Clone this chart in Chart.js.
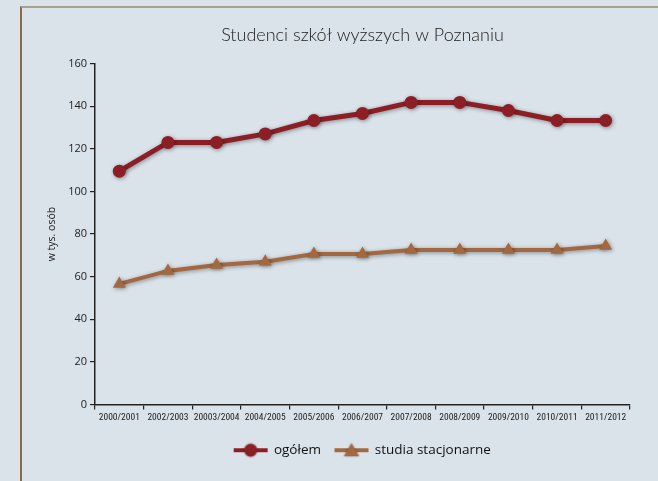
<!DOCTYPE html>
<html>
<head>
<meta charset="utf-8">
<script src="https://cdn.jsdelivr.net/npm/chart.js@4/dist/chart.umd.min.js"></script>
<style>
  html, body { margin: 0; padding: 0; background: #dae3ea; }
  #wrap { position: relative; width: 658px; height: 481px; }
  #frame { position: absolute; left: 20px; top: 6px; right: 0; bottom: 0;
           border-left: 2px solid #8d6c45; border-top: 2px solid #aba08e; }
  canvas { position: absolute; left: 0; top: 0; }
</style>
</head>
<body>
<div id="wrap">
  <div id="frame"></div>
  <canvas id="c" width="658" height="481"></canvas>
</div>
<script>
const categories = ["2000/2001","2002/2003","20003/2004","2004/2005","2005/2006","2006/2007","2007/2008","2008/2009","2009/2010","2010/2011","2011/2012"];
const ogolem = [109.5, 123, 123, 127, 133.3, 136.6, 141.8, 141.8, 138, 133.3, 133.3];
const stacjonarne = [56.6, 62.7, 65.5, 67, 70.6, 70.6, 72.5, 72.5, 72.5, 72.5, 74.4];
const yTicks = [0, 20, 40, 60, 80, 100, 120, 140, 160];
const seriesNames = ["ogółem", "studia stacjonarne"];
const titleText = "Studenci szkół wyższych w Poznaniu";
const yTitle = "w tys. osób";

const RED = "#8c1f25";
const BROWN = "#a3683f";

function legendIcon(color, shape) {
  const cv = document.createElement("canvas");
  cv.width = 38; cv.height = 18;
  const g = cv.getContext("2d");
  g.strokeStyle = color; g.lineWidth = 4;
  g.beginPath(); g.moveTo(2, 9); g.lineTo(36, 9); g.stroke();
  g.fillStyle = color;
  g.shadowColor = "rgba(0,0,0,0.45)"; g.shadowBlur = 2;
  g.beginPath();
  if (shape === "circle") { g.arc(19, 9, 6.5, 0, Math.PI * 2); }
  else { g.moveTo(19, 2); g.lineTo(26.5, 15); g.lineTo(11.5, 15); g.closePath(); }
  g.fill();
  return cv;
}
const icons = [legendIcon(RED, "circle"), legendIcon(BROWN, "triangle")];

const shadowPlugin = {
  id: "shadow",
  afterLayout(chart) {
    const a = chart.chartArea;
    if (chart.legend) { chart.legend.left = a.left; chart.legend.right = a.right; }
    if (chart.titleBlock) { chart.titleBlock.left = a.left; chart.titleBlock.right = a.right; }
  },
  beforeDatasetsDraw(chart) {
    const ctx = chart.ctx; ctx.save();
    ctx.shadowColor = "rgba(0,0,0,0.4)"; ctx.shadowBlur = 4; ctx.shadowOffsetX = 1; ctx.shadowOffsetY = 1;
  },
  afterDatasetsDraw(chart) { chart.ctx.restore(); }
};

new Chart(document.getElementById("c"), {
  type: "line",
  data: {
    labels: categories,
    datasets: [
      { label: seriesNames[0], data: ogolem, borderColor: RED, backgroundColor: RED,
        borderWidth: 5, pointRadius: 6.5, pointHoverRadius: 6.5, pointBorderWidth: 0, pointStyle: "circle", tension: 0 },
      { label: seriesNames[1], data: stacjonarne, borderColor: BROWN, backgroundColor: BROWN,
        borderWidth: 4, pointRadius: 7.5, pointHoverRadius: 7.5, pointBorderWidth: 0, pointStyle: "triangle", tension: 0 }
    ]
  },
  options: {
    responsive: false, animation: false,
    layout: { padding: { left: 46, right: 28, top: 15, bottom: 14 } },
    plugins: {
      title: { display: true, text: titleText, color: "#1a1a1a",
               font: { family: "Lato, 'Open Sans', sans-serif", size: 18, weight: 300 },
               padding: { top: 9, bottom: 18 } },
      legend: { position: "bottom",
        labels: { usePointStyle: true, pointStyleWidth: 33, boxHeight: 18, color: "#111", padding: 14,
          font: { family: "'Open Sans', 'Noto Sans', sans-serif", size: 13.5 },
          generateLabels(chart) {
            return chart.data.datasets.map((d, i) => ({
              text: d.label, pointStyle: icons[i], fillStyle: d.borderColor,
              strokeStyle: d.borderColor, lineWidth: 0, datasetIndex: i, hidden: false, fontColor: "#111"
            }));
          } } },
      tooltip: { enabled: false }
    },
    scales: {
      x: { offset: true,
        grid: { offset: true, drawOnChartArea: false, drawTicks: true, tickLength: 5, color: "#222", lineWidth: 1.2 },
        border: { color: "#222", width: 1.5 },
        ticks: { color: "#222", maxRotation: 0, autoSkip: false, padding: 2,
          font: { family: "'Liberation Sans Narrow', 'Roboto Condensed', sans-serif", size: 9.5 } },
        afterFit(s) { s.height = 25; }
      },
      y: { min: 0, max: 160,
        afterBuildTicks(s) { s.ticks = yTicks.map(v => ({ value: v })); },
        grid: { drawOnChartArea: false, drawTicks: true, tickLength: 5, color: "#222", lineWidth: 1.2 },
        border: { color: "#222", width: 1.5 },
        ticks: { color: "#222", padding: 3,
          font: { family: "'Open Sans', 'Noto Sans', sans-serif", size: 11 } },
        title: { display: true, text: yTitle, color: "#222", padding: { top: 0, bottom: 4 },
          font: { family: "'Open Sans', 'Noto Sans', sans-serif", size: 10.5 } },
        afterFit(s) { s.width = 49; }
      }
    }
  },
  plugins: [shadowPlugin]
});
</script>
</body>
</html>
